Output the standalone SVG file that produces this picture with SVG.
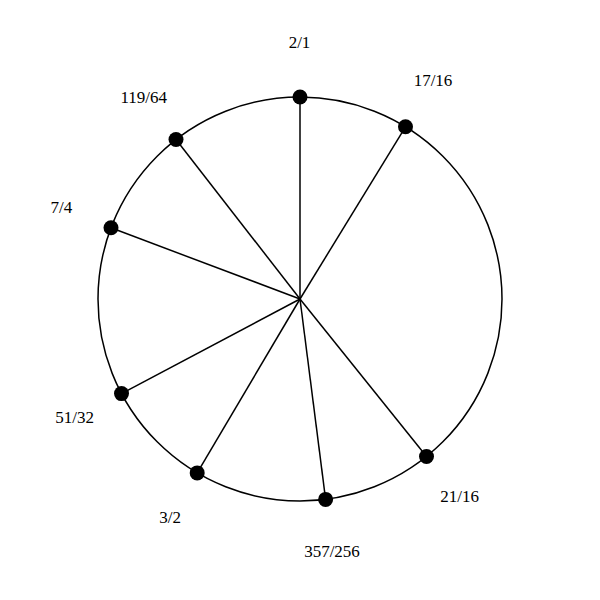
<svg xmlns="http://www.w3.org/2000/svg" width="600" height="600" viewBox="0 0 600 600">
<style>
.ring{fill:none;stroke:#000;stroke-width:1.5}
.spoke{stroke:#000;stroke-width:1.5}
.dot{fill:#000}
.lbl{font-family:"Liberation Serif","Times New Roman",serif;font-size:17px;fill:#000;text-anchor:middle}
</style>
<rect width="600" height="600" fill="#fff"/>
<circle class="ring" cx="300" cy="299" r="202"/>
<g id="connectors">
<line class="spoke" x1="300" y1="299" x2="300" y2="97"/>
<line class="spoke" x1="300" y1="299" x2="405.5" y2="126.8"/>
<line class="spoke" x1="300" y1="299" x2="426.5" y2="456.5"/>
<line class="spoke" x1="300" y1="299" x2="325.6" y2="499.4"/>
<line class="spoke" x1="300" y1="299" x2="197.2" y2="472.9"/>
<line class="spoke" x1="300" y1="299" x2="121.5" y2="393.6"/>
<line class="spoke" x1="300" y1="299" x2="111" y2="227.8"/>
<line class="spoke" x1="300" y1="299" x2="176" y2="139.5"/>
</g>
<g id="n-2-1"><circle class="dot" cx="300" cy="97" r="7.5"/><text class="lbl" x="299.5" y="48">2/1</text></g>
<g id="n-17-16"><circle class="dot" cx="405.5" cy="126.8" r="7.5"/><text class="lbl" x="433" y="85.5">17/16</text></g>
<g id="n-21-16"><circle class="dot" cx="426.5" cy="456.5" r="7.5"/><text class="lbl" x="459.7" y="502.3">21/16</text></g>
<g id="n-357-256"><circle class="dot" cx="325.6" cy="499.4" r="7.5"/><text class="lbl" x="332" y="557.3">357/256</text></g>
<g id="n-3-2"><circle class="dot" cx="197.2" cy="472.9" r="7.5"/><text class="lbl" x="170.2" y="523.3">3/2</text></g>
<g id="n-51-32"><circle class="dot" cx="121.5" cy="393.6" r="7.5"/><text class="lbl" x="74.7" y="423.3">51/32</text></g>
<g id="n-7-4"><circle class="dot" cx="111" cy="227.8" r="7.5"/><text class="lbl" x="61.3" y="213.3">7/4</text></g>
<g id="n-119-64"><circle class="dot" cx="176" cy="139.5" r="7.5"/><text class="lbl" x="143.7" y="102.7">119/64</text></g>
</svg>
